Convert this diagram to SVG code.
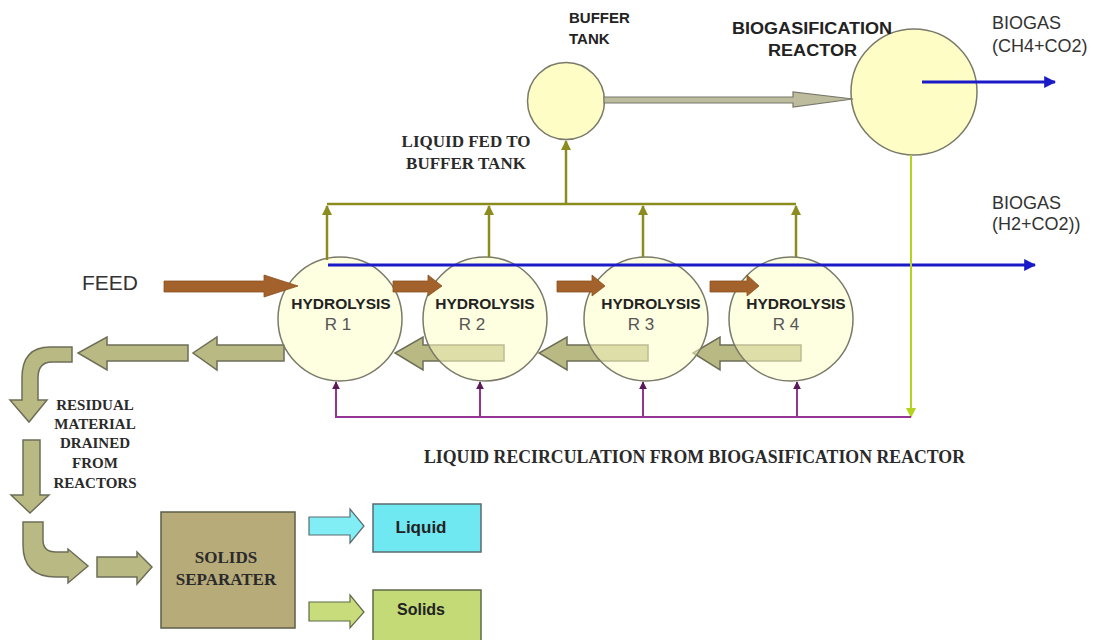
<svg xmlns="http://www.w3.org/2000/svg" width="1094" height="640" viewBox="0 0 1094 640">
<defs>
<style>
.blk{fill:#b9b983;stroke:#6e6e58;stroke-width:1.5}
.vessel{fill:#fefdc6;fill-opacity:0.55;stroke:#7a7a6a;stroke-width:1.5}
.vessel2{fill:#fefdc6;stroke:#7a7a6a;stroke-width:1.5}
.brown{fill:#a3612b;stroke:#8a5020;stroke-width:0.8}
.olive{stroke:#8c8c1e;stroke-width:2.5;fill:none}
.blue{stroke:#1a1ac8;stroke-width:3;fill:none}
.purple{stroke:#943494;stroke-width:2;fill:none}
.lime{stroke:#b4d21e;stroke-width:2;fill:none}
.sansb{font-family:"Liberation Sans",Arial,sans-serif;font-weight:bold;fill:#222}
.sans{font-family:"Liberation Sans",Arial,sans-serif;fill:#333}
.serifb{font-family:"Liberation Serif","Times New Roman",serif;font-weight:bold;fill:#2a2a2a}
.hyd{font-family:"Liberation Sans",Arial,sans-serif;font-weight:bold;font-size:15.5px;fill:#222;text-anchor:middle}
.rl{font-family:"Liberation Sans",Arial,sans-serif;font-size:17px;fill:#555;text-anchor:middle}
</style>
<marker id="aOlive" viewBox="0 0 10 10" refX="9" refY="5" markerWidth="4" markerHeight="4" orient="auto"><path d="M0,0 L10,5 L0,10 Z" fill="#8c8c1e"/></marker>
<marker id="aBlue" viewBox="0 0 10 10" refX="9" refY="5" markerWidth="4" markerHeight="4" orient="auto"><path d="M0,0 L10,5 L0,10 Z" fill="#1a1ac8"/></marker>
<marker id="aPurple" viewBox="0 0 10 10" refX="9" refY="5" markerWidth="4" markerHeight="4" orient="auto"><path d="M0,0 L10,5 L0,10 Z" fill="#5a1a5a"/></marker>
<marker id="aLime" viewBox="0 0 10 10" refX="9" refY="5" markerWidth="5" markerHeight="5" orient="auto"><path d="M0,0 L10,5 L0,10 Z" fill="#b4d21e"/></marker>
</defs>
<rect width="1094" height="640" fill="#ffffff"/>

<!-- drain block arrows (under reactors) -->
<g id="drain-arrows">
<path class="blk" d="M188,345 L107,345 L107,337 L78,353 L107,370 L107,361 L188,361 Z"/>
<path class="blk" d="M284,345 L217,345 L217,337 L193,353 L217,370 L217,361 L284,361 Z"/>
<path class="blk" d="M504,345 L423,345 L423,337 L395,353 L423,370 L423,361 L504,361 Z"/>
<path class="blk" d="M648,345 L567,345 L567,337 L539,353 L567,370 L567,361 L648,361 Z"/>
<path class="blk" d="M801,345 L720,345 L720,337 L693,353 L720,370 L720,361 L801,361 Z"/>
<path class="blk" d="M72,347 L50,347 Q22,347 22,378 L22,400 L10,400 L29,422 L47,400 L38,400 L38,378 Q38,362 52,362 L72,362 Z"/>
<path class="blk" d="M23,440 L40,440 L40,495 L49,495 L30,513 L11,495 L23,495 Z"/>
<path class="blk" d="M23,522 L43,522 L43,540 Q43,552 56,552 L68,552 L68,549 L88,566 L68,583 L68,577 L56,577 Q23,577 23,545 Z"/>
<path class="blk" d="M97,557 L137,557 L137,552 L152,567 L137,584 L137,577 L97,577 Z"/>
</g>

<!-- reactors -->
<g id="R1"><circle class="vessel" cx="340" cy="319" r="62"/><text class="hyd" x="341" y="308.5">HYDROLYSIS</text><text class="rl" x="338" y="330">R 1</text></g>
<g id="R2"><circle class="vessel" cx="485" cy="319" r="62"/><text class="hyd" x="485" y="308.5">HYDROLYSIS</text><text class="rl" x="472" y="330">R 2</text></g>
<g id="R3"><circle class="vessel" cx="646" cy="319" r="62"/><text class="hyd" x="651" y="308.5">HYDROLYSIS</text><text class="rl" x="641" y="330">R 3</text></g>
<g id="R4"><circle class="vessel" cx="791" cy="319" r="62"/><text class="hyd" x="796" y="308.5">HYDROLYSIS</text><text class="rl" x="786" y="330">R 4</text></g>

<g id="buffer-tank"><circle class="vessel2" cx="566" cy="101" r="38.5"/>
<text class="sansb" font-size="15" x="569" y="23">BUFFER</text><text class="sansb" font-size="15" x="569" y="44">TANK</text></g>

<g id="biogasification-reactor"><circle class="vessel2" cx="914" cy="92" r="63"/>
<text class="sansb" font-size="16" x="732" y="33.5" textLength="160" lengthAdjust="spacingAndGlyphs">BIOGASIFICATION</text>
<text class="sansb" font-size="16" x="768" y="55.5" textLength="89" lengthAdjust="spacingAndGlyphs">REACTOR</text></g>

<g id="solids-separater"><rect x="161" y="512" width="134" height="116" fill="#b7ab7a" stroke="#5e5e48" stroke-width="1.5"/>
<text class="serifb" font-size="17" x="226" y="563" text-anchor="middle">SOLIDS</text>
<text class="serifb" font-size="17" x="226" y="585" text-anchor="middle">SEPARATER</text></g>

<g id="liquid"><rect x="373" y="504" width="108" height="48" fill="#70e8f2" stroke="#5a6a70" stroke-width="1.5"/>
<text class="sansb" font-size="17" x="421" y="533" text-anchor="middle" fill="#1c2c34">Liquid</text></g>

<g id="solids"><rect x="373" y="590" width="108" height="56" fill="#c3da76" stroke="#5e6a48" stroke-width="1.5"/>
<text class="sansb" font-size="16" x="421" y="615" text-anchor="middle">Solids</text></g>

<!-- connectors -->
<g id="connectors">
<path class="brown" d="M164,281 L264,281 L264,275 L298,286 L264,297 L264,292 L164,292 Z"/>
<path class="brown" d="M393,281 L428,281 L428,275 L442,286 L428,296 L428,292 L393,292 Z"/>
<path class="brown" d="M557,281 L592,281 L592,275 L605,286 L592,296 L592,292 L557,292 Z"/>
<path class="brown" d="M710,281 L747,281 L747,275 L759,286 L747,296 L747,292 L710,292 Z"/>
<path d="M604,97 L793,97 L793,92 L853,99 L793,107 L793,103 L604,103 Z" fill="#bdbd9e" stroke="#77776a" stroke-width="1.2"/>
<path d="M309,517 L350,517 L350,509 L364,526 L350,543 L350,535 L309,535 Z" fill="#80eef4" stroke="#5a6a70" stroke-width="1.2"/>
<path d="M309,602 L350,602 L350,595 L364,612 L350,628 L350,621 L309,621 Z" fill="#c8dc7c" stroke="#5e6a48" stroke-width="1.2"/>
<line class="blue" x1="328" y1="265" x2="1035" y2="265" marker-end="url(#aBlue)"/>
<line class="blue" x1="922" y1="82" x2="1055" y2="82" marker-end="url(#aBlue)"/>
<line class="olive" x1="566" y1="204" x2="566" y2="141" marker-end="url(#aOlive)"/>
<line class="olive" x1="327" y1="204" x2="796" y2="204"/>
<line class="olive" x1="327" y1="260" x2="327" y2="206" marker-end="url(#aOlive)"/>
<line class="olive" x1="489" y1="257" x2="489" y2="206" marker-end="url(#aOlive)"/>
<line class="olive" x1="643" y1="257" x2="643" y2="206" marker-end="url(#aOlive)"/>
<line class="olive" x1="796" y1="257" x2="796" y2="206" marker-end="url(#aOlive)"/>
<line class="lime" x1="911" y1="155" x2="911" y2="417" marker-end="url(#aLime)"/>
<polyline class="purple" points="336,382 336,417 911,417"/>
<line class="purple" x1="336" y1="417" x2="336" y2="382" marker-end="url(#aPurple)"/>
<line class="purple" x1="480" y1="417" x2="480" y2="382" marker-end="url(#aPurple)"/>
<line class="purple" x1="643" y1="417" x2="643" y2="382" marker-end="url(#aPurple)"/>
<line class="purple" x1="797" y1="417" x2="797" y2="382" marker-end="url(#aPurple)"/>
</g>

<!-- free labels -->
<g id="labels">
<text class="sans" font-size="21" x="82" y="289.5">FEED</text>
<text class="sans" font-size="18" x="992" y="28.5">BIOGAS</text>
<text class="sans" font-size="18" x="992" y="51.5">(CH4+CO2)</text>
<text class="sans" font-size="18" x="992" y="208.5">BIOGAS</text>
<text class="sans" font-size="18" x="992" y="229.5">(H2+CO2))</text>
<text class="serifb" font-size="17" x="466" y="147" text-anchor="middle">LIQUID FED TO</text>
<text class="serifb" font-size="17" x="466" y="169" text-anchor="middle">BUFFER TANK</text>
<text class="serifb" font-size="18" x="424" y="463" textLength="541" lengthAdjust="spacingAndGlyphs">LIQUID RECIRCULATION FROM BIOGASIFICATION REACTOR</text>
<g class="serifb" font-size="15" text-anchor="middle">
<text x="95" y="410">RESIDUAL</text>
<text x="95" y="429">MATERIAL</text>
<text x="95" y="448">DRAINED</text>
<text x="95" y="468">FROM</text>
<text x="95" y="488">REACTORS</text>
</g>
</g>
</svg>
